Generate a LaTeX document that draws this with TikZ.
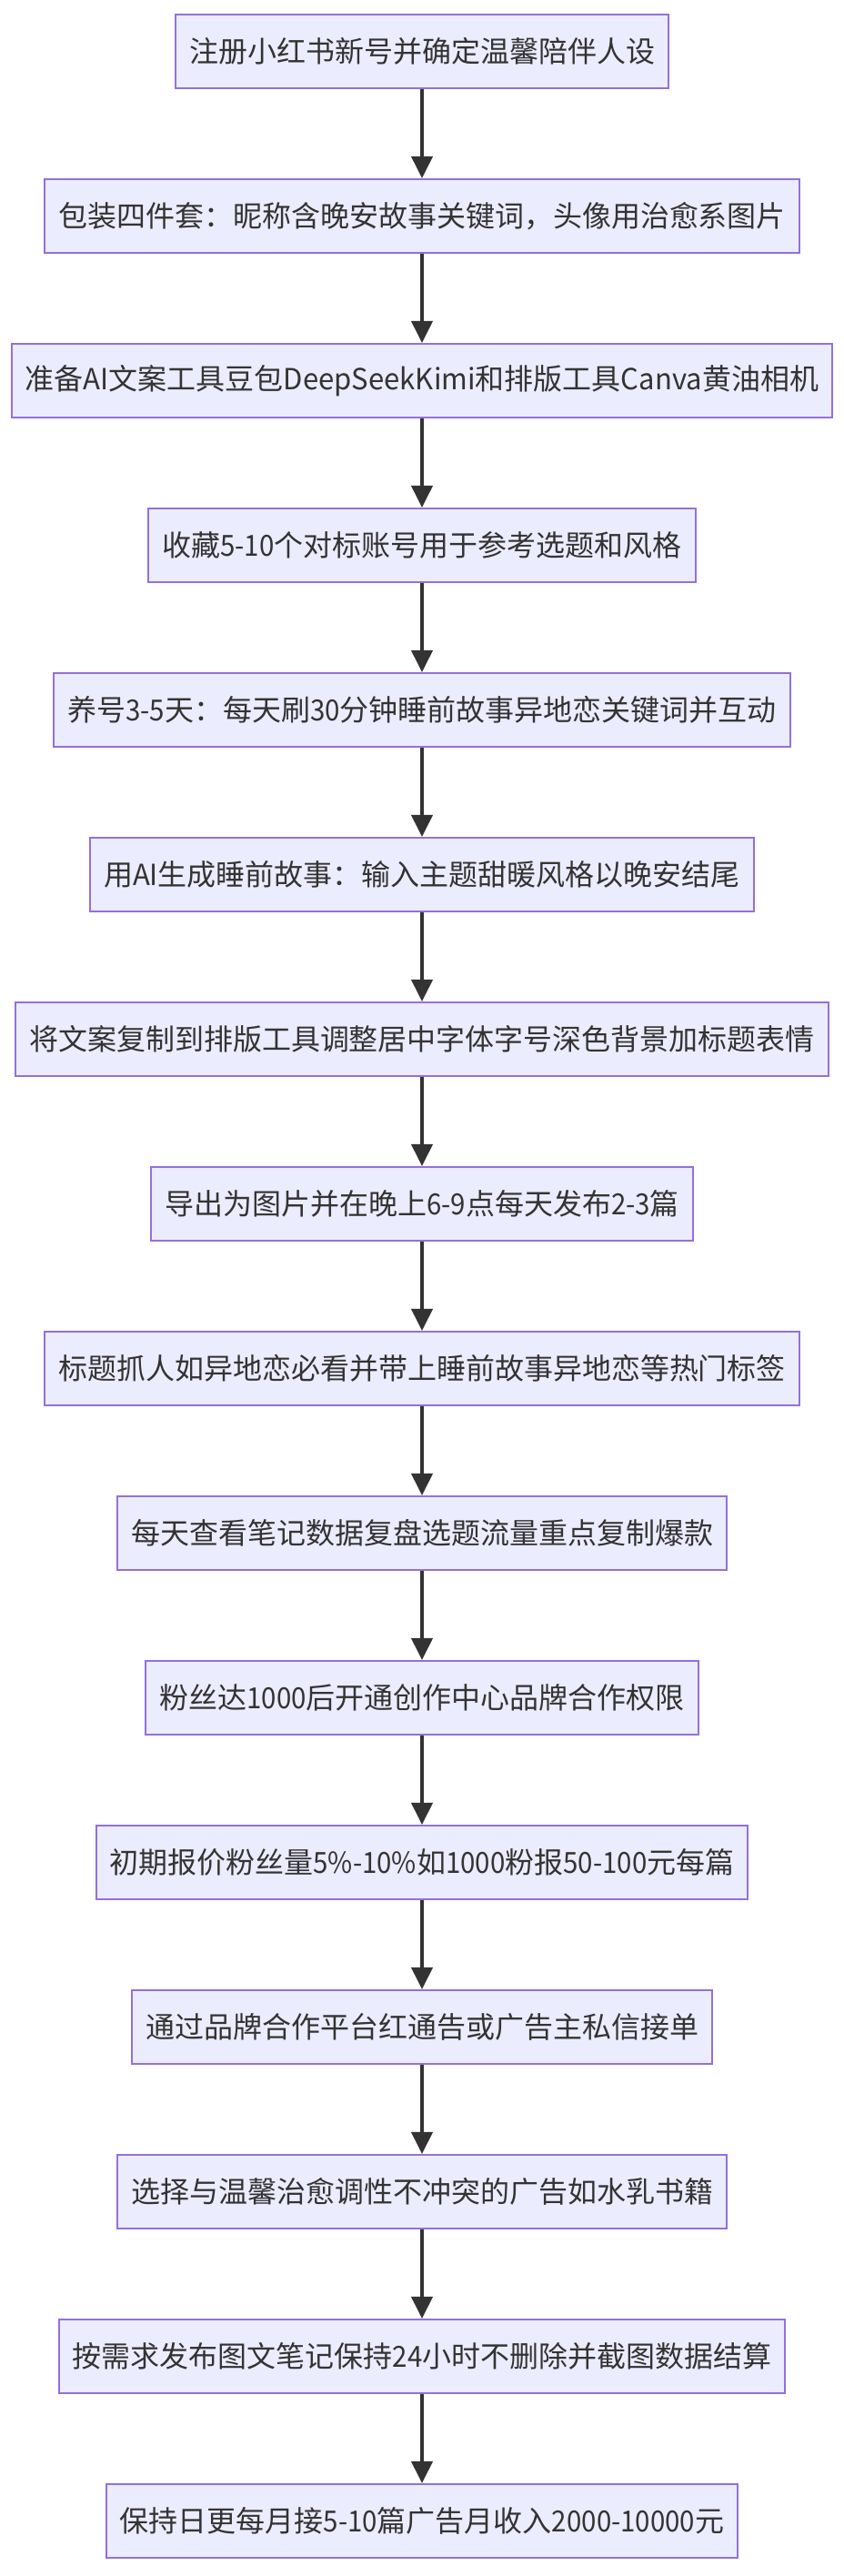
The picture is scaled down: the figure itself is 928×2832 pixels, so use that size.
\documentclass[tikz,border=0pt]{standalone}
\usepackage{fontspec}
\setmainfont{Noto Sans CJK SC}
\newfontfamily\digfont[FakeStretch=0.92]{Noto Sans CJK SC}
\newfontfamily\letfont[FakeStretch=0.97]{Noto Sans CJK SC}
\newcommand{\dg}[1]{{\digfont #1}}
\newcommand{\lt}[1]{{\letfont #1}}
\usetikzlibrary{arrows.meta}
\definecolor{boxfill}{HTML}{ECECFF}
\definecolor{boxline}{HTML}{9370DB}
\definecolor{ink}{HTML}{333333}
\tikzset{
  stepbox/.style={draw=boxline, fill=boxfill, line width=2pt, text=ink,
    font=\fontsize{32pt}{38pt}\selectfont, inner xsep=15pt, inner ysep=0pt,
    minimum height=81pt, anchor=center},
  flow/.style={draw=ink, line width=4pt,
    -{Triangle[length=24pt,width=23pt]}, shorten >=0pt}
}
\begin{document}
\begin{tikzpicture}[x=1pt,y=1pt]
\useasboundingbox (0,0) rectangle (928,2832);
\foreach \i/\t in {
0/注册小红书新号并确定温馨陪伴人设,
1/包装四件套：昵称含晚安故事关键词，头像用治愈系图片,
2/准备\lt{AI}文案工具豆包\lt{DeepSeekKimi}和排版工具\lt{Canva}黄油相机,
3/收藏\dg{5-10}个对标账号用于参考选题和风格,
4/养号\dg{3-5}天：每天刷\dg{30}分钟睡前故事异地恋关键词并互动,
5/用\lt{AI}生成睡前故事：输入主题甜暖风格以晚安结尾,
6/将文案复制到排版工具调整居中字体字号深色背景加标题表情,
7/导出为图片并在晚上\dg{6-9}点每天发布\dg{2-3}篇,
8/标题抓人如异地恋必看并带上睡前故事异地恋等热门标签,
9/每天查看笔记数据复盘选题流量重点复制爆款,
10/粉丝达\dg{1000}后开通创作中心品牌合作权限,
11/初期报价粉丝量\dg{5\%-10\%}如\dg{1000}粉报\dg{50-100}元每篇,
12/通过品牌合作平台红通告或广告主私信接单,
13/选择与温馨治愈调性不冲突的广告如水乳书籍,
14/按需求发布图文笔记保持\dg{24}小时不删除并截图数据结算,
15/保持日更每月接\dg{5-10}篇广告月收入\dg{2000-10000}元}
{
  \node[stepbox] (n\i) at (464, {2832-56.5-181*\i}) {\t};
}
\foreach \i [evaluate=\i as \j using int(\i+1)] in {0,...,14}
{
  \draw[flow] (n\i.south) -- (n\j.north);
}
\end{tikzpicture}
\end{document}
